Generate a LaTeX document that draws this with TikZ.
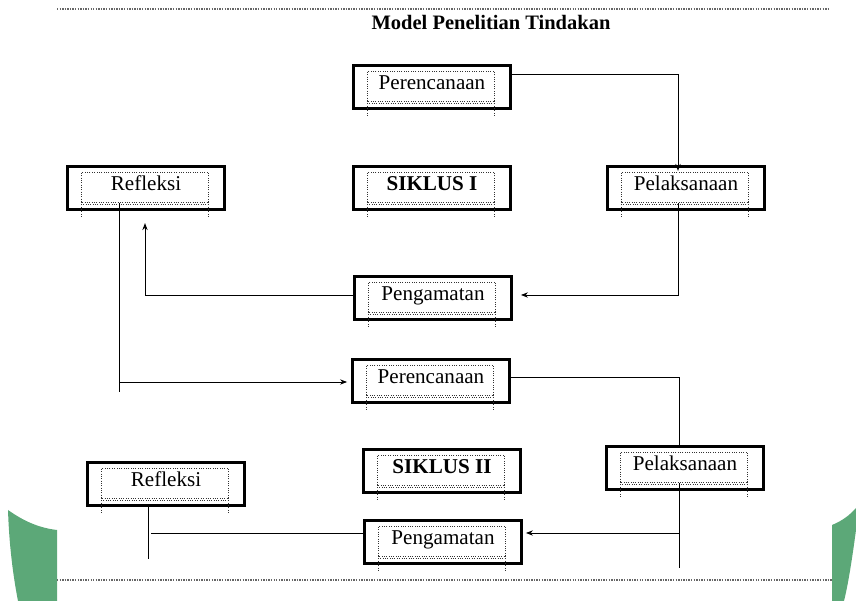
\documentclass[tikz,border=0pt]{standalone}
\usepackage{fontspec}
\setmainfont{Liberation Serif}
\usetikzlibrary{arrows.meta,calc}
\definecolor{hijau}{RGB}{92,168,120}
\begin{document}
\begin{tikzpicture}[x=0.03cm,y=-0.03cm,
  kotak/.style={draw,line width=2.4pt,minimum width=4.71cm,minimum height=1.3cm,inner sep=0pt,
    font=\fontsize{18}{20}\selectfont,text height=12pt,text depth=8pt},
  kotaktebal/.style={kotak,font=\fontsize{18}{20}\selectfont\bfseries},
  titik/.style={line width=0.8pt,black!80,dash pattern=on 0.8pt off 1.2pt},
  garis/.style={line width=0.8pt},
  panah/.style={garis,-{Stealth[length=6pt,width=4.5pt]}}]
\useasboundingbox (0,0) rectangle (856,601);

\fill[hijau] (8,510) .. controls (25,522) and (40,528) .. (57,530) -- (57,601) -- (18,601) .. controls (12,570) and (9,540) .. (8,510);
\fill[hijau] (832,525) .. controls (842,521) and (850,515) .. (856,508) -- (856,530) .. controls (852,560) and (848,585) .. (844,601) -- (832,601) -- cycle;
\draw[densely dotted,line width=1.2pt,black!60] (57,9) -- (830,9);
\draw[densely dotted,line width=1.2pt,black!60] (57,580) -- (832,580);

\node[font=\fontsize{17.5}{20}\selectfont\bfseries] (judul) at (491,22) {Model Penelitian Tindakan};

\node[kotak] (per1) at (432,87) {Perencanaan};
\node[kotak] (ref1) at (146,188) {Refleksi};
\node[kotaktebal] (sik1) at (432,188) {SIKLUS I};
\node[kotak] (pel1) at (686,188) {Pelaksanaan};
\node[kotak] (pen1) at (433,298) {Pengamatan};

\node[kotak] (per2) at (431,381) {Perencanaan};
\node[kotak] (pel2) at (685,468) {Pelaksanaan};
\node[kotaktebal] (sik2) at (442,471) {SIKLUS II};
\node[kotak] (pen2) at (443,542) {Pengamatan};
\node[kotak] (ref2) at (166,484) {Refleksi};

\foreach \n in {per1,ref1,sik1,pel1,pen1,per2,pel2,sik2,pen2,ref2}{
  \draw[titik] ($(\n.north west)+(15,8)$) rectangle ($(\n.south east)+(-17,-9)$);
  \draw[titik] ($(\n.south west)+(15,-7)$) -- ($(\n.south east)+(-17,-7)$);
  \draw[titik] ($(\n.south west)+(15,-9)$) -- ++(0,15);
  \draw[titik] ($(\n.south east)+(-17,-9)$) -- ++(0,15);
}

% siklus I
\draw[panah] ($(per1.east)+(0,-13)$) -| ($(pel1.north)+(-8,6)$);
\draw[panah] ($(pel1.south)+(-8,-8)$) |- ($(pen1.east)+(8,-3)$);
\draw[panah] ($(pen1.west)+(0,-3)$) -| ($(ref1.south)+(-1,12)$);
\draw[garis] ($(ref1.south)+(-27,-8)$) coordinate (a1) -- ($(a1 |- per2.west)+(0,11)$);
\draw[panah] ($(a1 |- per2.west)+(0,1)$) -- ($(per2.west)+(-4,1)$);

% siklus II
\draw[garis] ($(per2.east)+(0,-4)$) -| ($(pel2.north)+(-6,0)$);
\draw[garis] ($(pel2.south)+(-6,-8)$) coordinate (a2) -- ++(0,85);
\draw[panah] ($(a2 |- pen2.east)+(0,-9)$) -- ($(pen2.east)+(3,-9)$);
\draw[garis] ($(ref2.south)+(-18,0)$) coordinate (a3) -- ++(0,52);
\draw[garis] ($(pen2.west)+(0,-9)$) -- ($(a3 |- pen2.west)+(3,-9)$);
\end{tikzpicture}
\end{document}
